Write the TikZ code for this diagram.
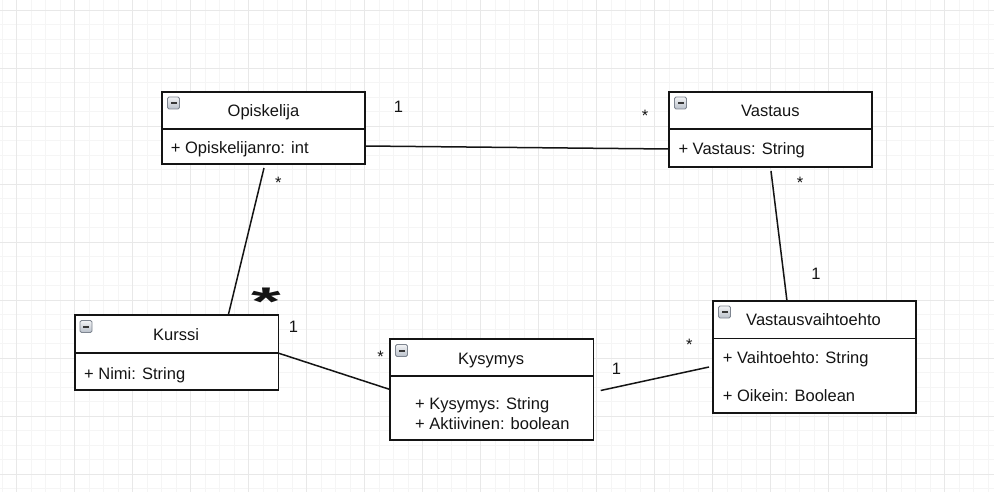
\documentclass[tikz,border=0pt]{standalone}
\usepackage{fontspec}
\setmainfont{Liberation Sans}
\definecolor{minorgrid}{HTML}{F5F5F5}
\definecolor{majorgrid}{HTML}{E8E8E8}
\definecolor{ink}{HTML}{141414}
\definecolor{iconfillA}{HTML}{F2F3F5}
\definecolor{iconfillB}{HTML}{B9C0CA}
\definecolor{iconborder}{HTML}{7E8590}
\tikzset{
  classbox/.style={draw=ink, line width=1.6pt, fill=white, inner sep=0pt, rectangle},
  divider/.style={draw=ink, line width=1.6pt},
  assoc/.style={draw=ink, line width=1.5pt},
  txt/.style={inner sep=0pt, text=ink, font=\fontsize{16.5}{19}\selectfont},
  titletext/.style={txt, anchor=base},
  attrtext/.style={txt, anchor=base west},
  multlabel/.style={txt, anchor=base},
  umlicon/.pic={
    \shade[top color=iconfillA, bottom color=iconfillB, draw=iconborder, line width=0.8pt, rounded corners=1.5pt] (0,0) rectangle (12,12);
    \fill[ink!85] (3,5.2) rectangle (9,7);
  }
}
\begin{document}
\begin{tikzpicture}[x=1pt,y=-1pt]
\useasboundingbox (0,0) rectangle (994,492);
\fill[white] (0,0) rectangle (994,492);
% grid
\foreach \i in {0,...,68} \draw[minorgrid, line width=0.7pt] ({2+14.5*\i},0) -- ({2+14.5*\i},492);
\foreach \i in {0,...,33} \draw[minorgrid, line width=0.7pt] (0,{10+14.5*\i}) -- (994,{10+14.5*\i});
\foreach \i in {0,...,16} \draw[majorgrid, line width=0.9pt] ({16.5+58*\i},0) -- ({16.5+58*\i},492);
\foreach \i in {0,...,8} \draw[majorgrid, line width=0.9pt] (0,{10+58*\i}) -- (994,{10+58*\i});

% connector end points
\coordinate (opE) at (365,146);
\coordinate (vaW) at (669,149);
\coordinate (opS) at (264,168);
\coordinate (kuN) at (228.3,315);
\coordinate (kuE) at (278,353);
\coordinate (kyW) at (390,389.5);
\coordinate (kyE) at (600.7,390.5);
\coordinate (vvW) at (709,367);
\coordinate (vaS) at (771,171);
\coordinate (vvN) at (787,301);

% connectors
\draw[assoc] (opE) -- (vaW);
\draw[assoc] (opS) -- (kuN);
\draw[assoc] (kuE) -- (kyW);
\draw[assoc] (kyE) -- (vvW);
\draw[assoc] (vaS) -- (vvN);

% classes
\node[classbox, minimum width=203pt, minimum height=72pt] (op) at (263.5,128) {};
\draw[divider] (162,129) -- (365,129);
\pic at (167.5,97) {umlicon};
\node[titletext] (opT) at (263.5,116.7) {Opiskelija};
\node[attrtext] (opA) at (170.7,154) {+ Opiskelijanro: int};

\node[classbox, minimum width=203pt, minimum height=75pt] (va) at (770.5,129.5) {};
\draw[divider] (669,129) -- (872,129);
\pic at (674.5,97) {umlicon};
\node[titletext] (vaT) at (770.3,116.7) {Vastaus};
\node[attrtext] (vaA) at (678.3,155) {+ Vastaus: String};

\node[classbox, minimum width=203pt, minimum height=112pt] (vv) at (814.5,357) {};
\draw[divider] (713,338.3) -- (916,338.3);
\pic at (718.5,306) {umlicon};
\node[titletext] (vvT) at (813.5,325.7) {Vastausvaihtoehto};
\node[attrtext] (vvA) at (722.7,363.3) {+ Vaihtoehto: String};
\node[attrtext] (vvB) at (722.7,401.7) {+ Oikein: Boolean};

\node[classbox, minimum width=203.6pt, minimum height=75pt] (ku) at (176.5,352.5) {};
\draw[divider] (74.7,352.7) -- (278.3,352.7);
\pic at (80,320.5) {umlicon};
\node[titletext] (kuT) at (176,340.7) {Kurssi};
\node[attrtext] (kuA) at (84,379.3) {+ Nimi: String};

\node[classbox, minimum width=203.3pt, minimum height=101pt] (ky) at (491.7,389.5) {};
\draw[divider] (390,376) -- (593.3,376);
\pic at (395.5,344.5) {umlicon};
\node[titletext] (kyT) at (491,364.3) {Kysymys};
\node[attrtext] (kyA) at (415,409) {+ Kysymys: String};
\node[attrtext] (kyB) at (415,429) {+ Aktiivinen: boolean};

% multiplicities
\node[multlabel] (m1) at (398.5,113) {1};
\node[multlabel] (m2) at (645,122) {*};
\node[multlabel] (m3) at (278.3,188.5) {*};
\node[multlabel, font=\fontsize{40}{40}\selectfont\bfseries, xscale=1.9] (m4) at (266,315) {*};
\node[multlabel] (m5) at (293.5,332.5) {1};
\node[multlabel] (m6) at (380.5,362.5) {*};
\node[multlabel] (m7) at (616.5,374) {1};
\node[multlabel] (m8) at (689.3,350.5) {*};
\node[multlabel] (m9) at (800,188.5) {*};
\node[multlabel] (m10) at (816,279) {1};
\end{tikzpicture}
\end{document}
